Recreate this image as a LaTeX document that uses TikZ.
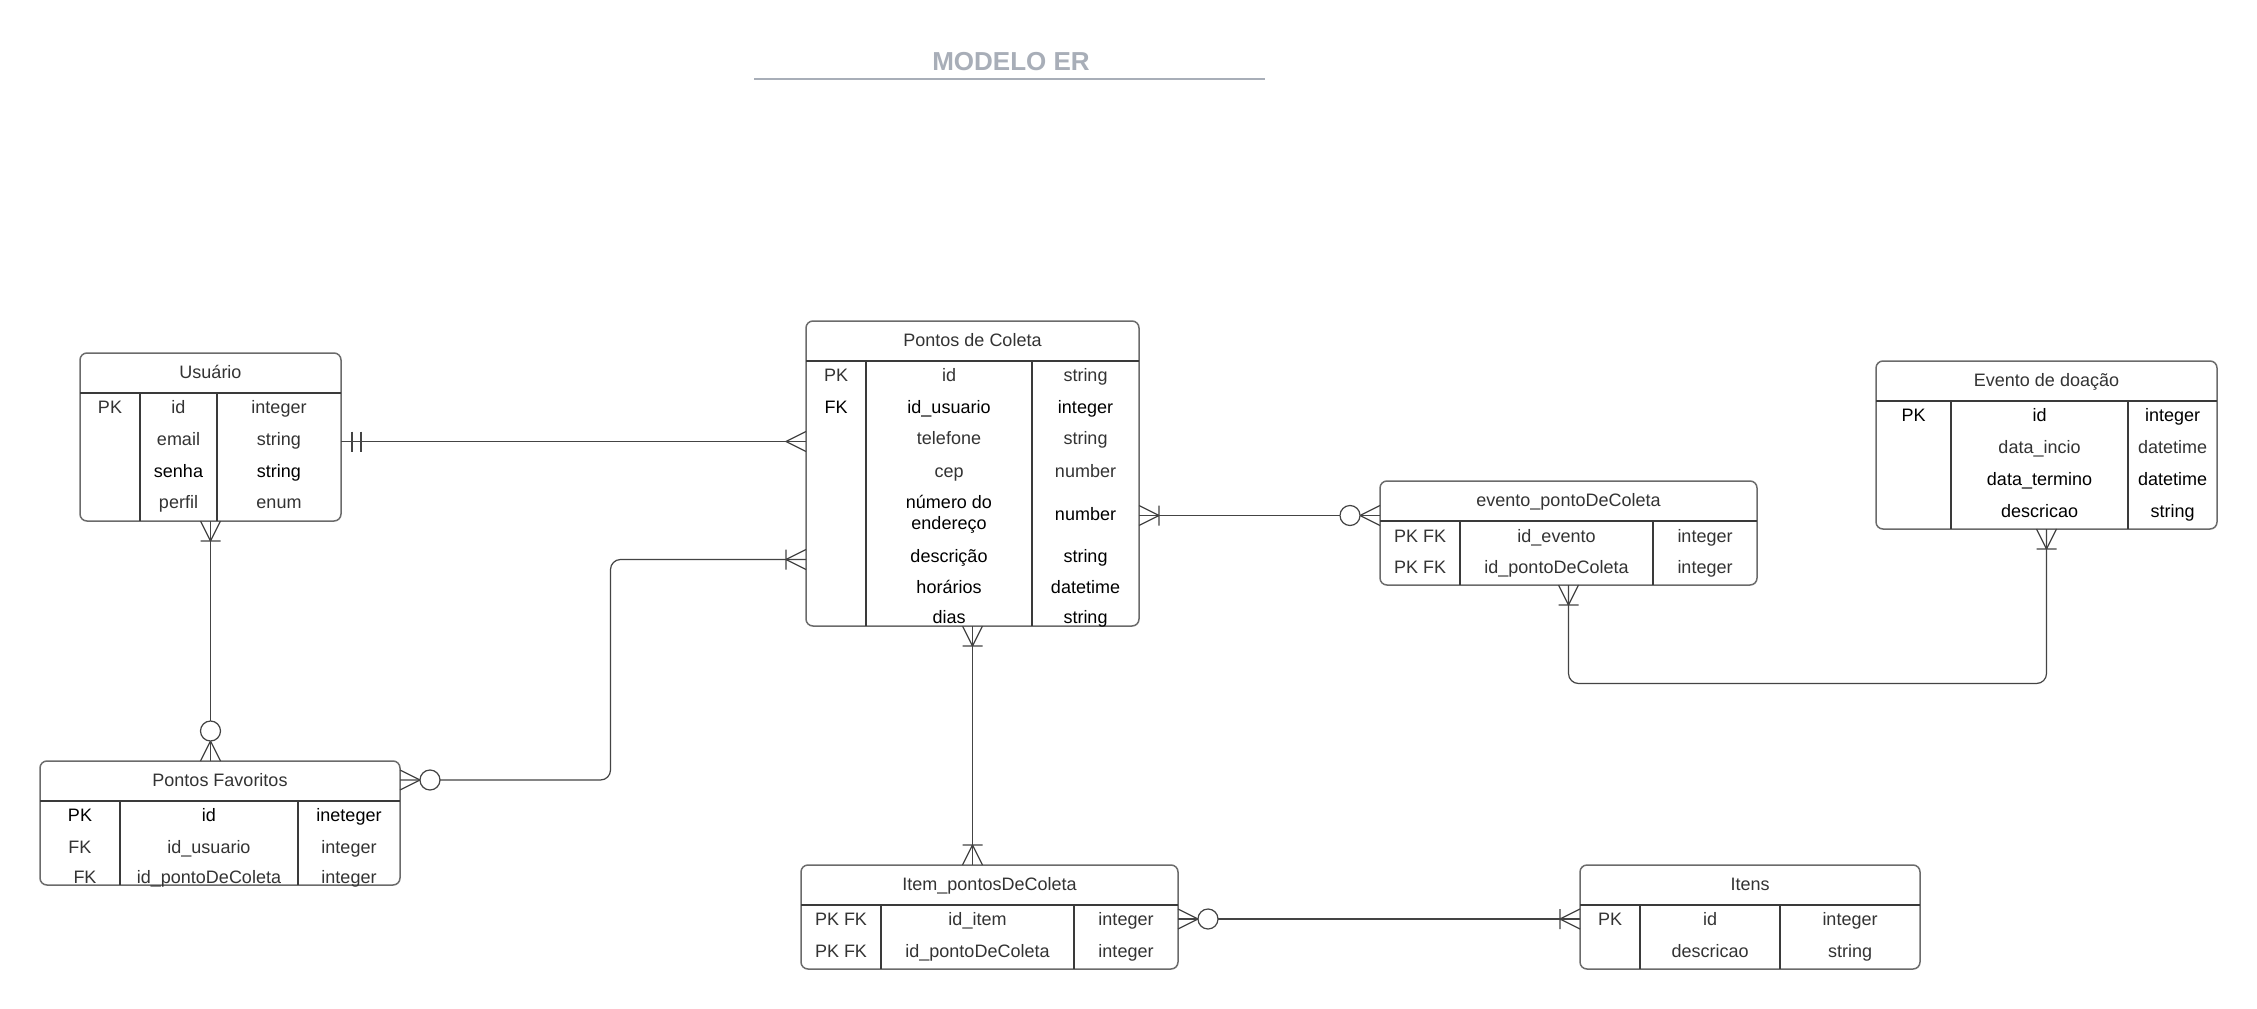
\documentclass[tikz,border=0pt]{standalone}
\usepackage{fontspec}
\setmainfont{Liberation Sans}
\usepackage{tikz}
\definecolor{boxline}{HTML}{6B6B6B}
\definecolor{sepgray}{HTML}{3A3A3A}
\definecolor{relgray}{HTML}{444444}
\definecolor{txtgray}{HTML}{333333}
\definecolor{titlegray}{HTML}{A8AEB8}
\tikzset{
	% entity box
	entity/.style={
		rectangle,
		rounded corners=7pt,
		draw=boxline, line width=1.5pt,
		fill=white,
		inner sep=0pt, outer sep=0pt},
	% lines inside the boxes
	sepline/.style={draw=sepgray, line width=1.3pt},
	% text of the cells
	celltext/.style={font=\fontsize{18}{21}\selectfont, text=txtgray, inner sep=0pt},
	cell/.style={celltext, text height=13pt, text depth=0pt},
	cellb/.style={cell, text=black},
	% relationship lines
	relation/.style={draw=relgray, line width=1.2pt, rounded corners=10pt},
	endmark/.style={draw=relgray, line width=1.2pt}
}
% #1 name, #2 left, #3 top, #4 right, #5 bottom, #6 first column, #7 second column, #8 title
\newcommand{\entity}[8]{%
	\node[entity, anchor=north west, minimum width={#4-#2}, minimum height={#5-#3}] (#1) at (#2,#3) {};
	\node[cell, yshift=-19pt] (#1-title) at (#1.north) {#8};
	\draw[sepline] (#2,#3+40) -- (#4,#3+40);
	\draw[sepline] (#6,#3+40) -- (#6,#5) (#7,#3+40) -- (#7,#5);
	\pgfmathsetmacro\kx{(#2+#6)/2}
	\pgfmathsetmacro\fx{(#6+#7)/2}
	\pgfmathsetmacro\tx{(#7+#4)/2}}
% one row of an entity
\newcommand{\row}[6][cell]{%
	\node[#1] (#2-k) at (\kx,#3) {#4};
	\node[#1] (#2-f) at (\fx,#3) {#5};
	\node[#1] (#2-t) at (\tx,#3) {#6};}
% line ends
\newcommand{\onlyone}[2]{\begin{scope}[shift={(#1)},rotate=#2]
		\draw[endmark] (11,-10) -- (11,10) (20,-10) -- (20,10);
	\end{scope}}
\newcommand{\many}[2]{\begin{scope}[shift={(#1)},rotate=#2]
		\draw[endmark] (0,-10) -- (20,0) -- (0,10);
	\end{scope}}
\newcommand{\oneormany}[2]{\begin{scope}[shift={(#1)},rotate=#2]
		\draw[endmark] (0,-10) -- (20,0) -- (0,10) (20,-10) -- (20,10);
	\end{scope}}
\newcommand{\zeroormany}[2]{\begin{scope}[shift={(#1)},rotate=#2]
		\draw[endmark] (0,-10) -- (20,0) -- (0,10);
		\draw[endmark, fill=white] (30,0) circle[radius=10];
	\end{scope}}

\begin{document}
\begin{tikzpicture}[x=1pt,y=-1pt]
	
	\fill[white] (0,0) rectangle (2257,1009);
	\useasboundingbox (0,0) rectangle (2257,1009);
	
	%title
	\node[font=\fontsize{26}{30}\selectfont\bfseries, text=titlegray, anchor=base, inner sep=0pt] (titulo) at (1011,70) {MODELO ER};
	\draw[titlegray, line width=2pt] (754,79) -- (1265,79);
	
	%entities
	\entity{usuario}{80}{353}{341}{521}{140}{217}{Usuário}
	\row{usuario-1}{407}{PK}{id}{integer}
	\row{usuario-2}{439}{}{email}{string}
	\row[cellb]{usuario-3}{471}{}{senha}{string}
	\row{usuario-4}{502}{}{perfil}{enum}
	
	\entity{pontos}{806}{321}{1139}{626}{866}{1032}{Pontos de Coleta}
	\row{pontos-1}{375}{PK}{id}{string}
	\row[cellb]{pontos-2}{407}{FK}{id\_usuario}{integer}
	\row{pontos-3}{438}{}{telefone}{string}
	\row{pontos-4}{471}{}{cep}{number}
	\node[celltext, text=black, align=center] (pontos-5-f) at (\fx,514) {número do\\endereço};
	\node[cellb] (pontos-5-t) at (\tx,514) {number};
	\row[cellb]{pontos-6}{556}{}{descrição}{string}
	\row[cellb]{pontos-7}{587}{}{horários}{datetime}
	\row[cellb]{pontos-8}{617}{}{dias}{string}
	
	\entity{evento}{1380}{481}{1757}{585}{1460}{1653}{evento\_pontoDeColeta}
	\row{evento-1}{536}{PK FK}{id\_evento}{integer}
	\row{evento-2}{567}{PK FK}{id\_pontoDeColeta}{integer}
	
	\entity{doacao}{1876}{361}{2217}{529}{1951}{2128}{Evento de doação}
	\row[cellb]{doacao-1}{415}{PK}{id}{integer}
	\row{doacao-2}{447}{}{data\_incio}{datetime}
	\row[cellb]{doacao-3}{479}{}{data\_termino}{datetime}
	\row[cellb]{doacao-4}{511}{}{descricao}{string}
	
	\entity{favoritos}{40}{761}{400}{885}{120}{298}{Pontos Favoritos}
	\row[cellb]{favoritos-1}{815}{PK}{id}{ineteger}
	\row{favoritos-2}{847}{FK}{id\_usuario}{integer}
	\node[cell] (favoritos-3-k) at (\kx+5,877) {FK};
	\node[cell] (favoritos-3-f) at (\fx,877) {id\_pontoDeColeta};
	\node[cell] (favoritos-3-t) at (\tx,877) {integer};
	
	\entity{item}{801}{865}{1178}{969}{881}{1074}{Item\_pontosDeColeta}
	\row{item-1}{919}{PK FK}{id\_item}{integer}
	\row{item-2}{951}{PK FK}{id\_pontoDeColeta}{integer}
	
	\entity{itens}{1580}{865}{1920}{969}{1640}{1780}{Itens}
	\row{itens-1}{919}{PK}{id}{integer}
	\row{itens-2}{951}{}{descricao}{string}
	
	%relations
	\coordinate (usrbar) at (600,441.5);
	\draw[relation] (usuario.east |- usrbar) -- (pontos.west |- usrbar);
	\onlyone{usuario.east |- usrbar}{0}
	\many{pontos.west |- usrbar}{180}
	
	\draw[relation] (usuario.south) -- (usuario.south |- favoritos.north);
	\oneormany{usuario.south}{-90}
	\zeroormany{usuario.south |- favoritos.north}{90}
	
	\coordinate (favbend) at (610.5,559.5);
	\draw[relation] (favoritos.east |- favoritos-title) -| (favbend) -- (pontos.west |- favbend);
	\zeroormany{favoritos.east |- favoritos-title}{0}
	\oneormany{pontos.west |- favbend}{180}
	
	\coordinate (evtbar) at (1250,515.5);
	\draw[relation] (pontos.east |- evtbar) -- (evento.west |- evtbar);
	\oneormany{pontos.east |- evtbar}{0}
	\zeroormany{evento.west |- evtbar}{180}
	
	\draw[relation] (pontos.south) -- (pontos.south |- item.north);
	\oneormany{pontos.south}{-90}
	\oneormany{pontos.south |- item.north}{90}
	
	\draw[relation] (item.east |- item-1-t) -- (itens.west |- item-1-t);
	\zeroormany{item.east |- item-1-t}{0}
	\oneormany{itens.west |- item-1-t}{180}
	
	\coordinate (evbend) at (1800,683.5);
	\draw[relation] (evento.south) |- (doacao.south |- evbend) -- (doacao.south);
	\oneormany{evento.south}{-90}
	\oneormany{doacao.south}{-90}
	
\end{tikzpicture}
\end{document}
